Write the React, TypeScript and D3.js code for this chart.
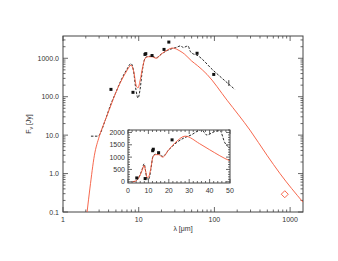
import { useEffect, useRef } from 'react';
import * as d3 from 'd3';

// model SED (red)
const modelWave = [2.08, 2.27, 2.6, 3.0, 3.6, 4.3, 5, 6, 7, 7.9, 8.6, 9.3, 9.8, 10.5, 11.3, 12.2, 13.5, 15, 17, 20, 24, 28, 35, 40, 50, 60, 80, 147, 295, 495, 735, 1480];
const modelFlux = [0.1, 0.42, 3, 9, 24, 60, 130, 280, 480, 660, 450, 190, 170, 280, 600, 1000, 1100, 1100, 1000, 1300, 1650, 1850, 1550, 1300, 850, 640, 380, 81, 13.5, 3.0, 1.0, 0.18];

// observed spectrum (black dashed)
const specWave = [2.34, 2.81, 3.0, 3.6, 4.3, 5, 6, 7, 7.9, 8.5, 9.2, 9.8, 10.4, 11.2, 12.3, 13.5, 15, 17, 20, 24, 28, 31, 34, 36, 38.6, 42.6, 45, 47.5, 50, 59, 96, 186];
const specFlux = [9.4, 9.4, 10, 24, 65, 130, 300, 520, 730, 500, 150, 92, 150, 500, 1050, 1120, 1130, 1030, 1300, 1600, 1800, 1900, 2050, 2120, 1900, 2040, 2080, 1580, 1375, 1200, 490, 155];

// photometry (black squares)
const photWave = [4.3, 8.4, 12.1, 12.4, 15, 21.6, 25, 59, 98];
const photFlux = [155, 130, 1260, 1320, 1180, 1700, 2640, 1350, 380];

// error bar near 155 um
const errWave = [155];
const errLo = [190];
const errHi = [270];

// mm point (open diamond)
const mmWave = [850];
const mmFlux = [0.29];

const xTickVals = [1, 10, 100, 1000];
const yTickVals = [0.1, 1, 10, 100, 1000];
const yTickLabels = ['0.1', '1.0', '10.0', '100.0', '1000.0'];
const insetXTicks = [0, 10, 20, 30, 40, 50];
const insetYTicks = [0, 500, 1000, 1500, 2000];

const RED = '#f5573a';
const AX = '#444';
const FONT = '"Liberation Sans", Arial, sans-serif';

export default function App() {
  const svgRef = useRef<SVGSVGElement>(null);

  useEffect(() => {
    const svg = d3.select(svgRef.current);
    svg.selectAll('*').remove();

    const m = { left: 63, right: 303, top: 36, bottom: 212 };
    const x = d3.scaleLog().domain([1, 1480]).range([m.left, m.right]);
    const y = d3.scaleLog().domain([0.1, 3800]).range([m.bottom, m.top]);

    svg.append('defs').append('clipPath').attr('id', 'mainClip')
      .append('rect').attr('x', m.left).attr('y', m.top)
      .attr('width', m.right - m.left).attr('height', m.bottom - m.top);

    const g = svg.append('g');

    // minor/major ticks, log
    const minorX: number[] = [];
    for (let d = 1; d < 10000; d *= 10) for (let k = 2; k < 10; k++) if (d * k < 1480) minorX.push(d * k);
    const minorY: number[] = [];
    for (let d = 0.1; d < 10000; d *= 10) for (let k = 2; k < 10; k++) if (d * k < 3800) minorY.push(d * k);

    const tk = (x1: number, y1: number, x2: number, y2: number) =>
      g.append('line').attr('x1', x1).attr('y1', y1).attr('x2', x2).attr('y2', y2)
        .attr('stroke', AX).attr('stroke-width', 0.8);

    xTickVals.forEach(v => { tk(x(v), m.bottom, x(v), m.bottom - 5); tk(x(v), m.top, x(v), m.top + 5); });
    minorX.forEach(v => { tk(x(v), m.bottom, x(v), m.bottom - 2.5); tk(x(v), m.top, x(v), m.top + 2.5); });
    yTickVals.forEach(v => { tk(m.left, y(v), m.left + 5, y(v)); tk(m.right, y(v), m.right - 5, y(v)); });
    minorY.forEach(v => { tk(m.left, y(v), m.left + 2.5, y(v)); tk(m.right, y(v), m.right - 2.5, y(v)); });

    g.append('rect').attr('x', m.left).attr('y', m.top)
      .attr('width', m.right - m.left).attr('height', m.bottom - m.top)
      .attr('fill', 'none').attr('stroke', AX).attr('stroke-width', 1);

    g.selectAll('.xl').data(xTickVals).join('text')
      .attr('x', d => x(d)).attr('y', m.bottom + 10).attr('text-anchor', 'middle')
      .attr('font-size', 7).attr('font-family', FONT).attr('fill', '#333').text(d => String(d));
    g.selectAll('.yl').data(yTickVals).join('text')
      .attr('x', m.left - 4).attr('y', d => y(d) + 2.5).attr('text-anchor', 'end')
      .attr('font-size', 7).attr('font-family', FONT).attr('fill', '#333').text((_, i) => yTickLabels[i]);

    g.append('text').attr('x', (m.left + m.right) / 2).attr('y', 231).attr('text-anchor', 'middle')
      .attr('font-size', 7).attr('font-family', FONT).attr('fill', '#333').text('λ [μm]');
    const yt = g.append('text').attr('transform', `translate(31,${(m.top + m.bottom) / 2}) rotate(-90)`)
      .attr('text-anchor', 'middle').attr('font-size', 7).attr('font-family', FONT).attr('fill', '#333');
    yt.append('tspan').text('F');
    yt.append('tspan').attr('font-size', 5).attr('dy', 1.5).text('ν');
    yt.append('tspan').attr('dy', -1.5).text(' [Jy]');

    const plot = g.append('g').attr('clip-path', 'url(#mainClip)');
    const modelPts = modelWave.map((w, i) => [w, modelFlux[i]] as [number, number]);
    const specPts = specWave.map((w, i) => [w, specFlux[i]] as [number, number]);

    const lineMain = d3.line<[number, number]>().x(d => x(d[0])).y(d => y(d[1])).curve(d3.curveMonotoneX);

    plot.append('path').attr('d', lineMain(specPts)).attr('fill', 'none')
      .attr('stroke', '#111').attr('stroke-width', 0.9).attr('stroke-dasharray', '2.5,1.5');
    plot.append('path').attr('d', lineMain(modelPts)).attr('fill', 'none')
      .attr('stroke', RED).attr('stroke-width', 0.9);

    photWave.forEach((w, i) => {
      plot.append('rect').attr('x', x(w) - 1.5).attr('y', y(photFlux[i]) - 1.5)
        .attr('width', 3).attr('height', 3).attr('fill', '#111');
    });
    errWave.forEach((w, i) => {
      plot.append('line').attr('x1', x(w)).attr('x2', x(w)).attr('y1', y(errLo[i])).attr('y2', y(errHi[i]))
        .attr('stroke', '#111').attr('stroke-width', 0.8);
    });
    mmWave.forEach((w, i) => {
      const cx = x(w), cy = y(mmFlux[i]);
      plot.append('path').attr('d', `M${cx},${cy - 3.5}L${cx + 3.5},${cy}L${cx},${cy + 3.5}L${cx - 3.5},${cy}Z`)
        .attr('fill', 'none').attr('stroke', RED).attr('stroke-width', 0.9);
    });

    // inset
    const n = { left: 128, right: 230, top: 130, bottom: 183 };
    const xi = d3.scaleLinear().domain([0, 50]).range([n.left, n.right]);
    const yi = d3.scaleLinear().domain([-50, 2100]).range([n.bottom, n.top]);

    svg.select('defs').append('clipPath').attr('id', 'insetClip')
      .append('rect').attr('x', n.left).attr('y', n.top)
      .attr('width', n.right - n.left).attr('height', n.bottom - n.top);

    const ig = svg.append('g');
    ig.append('rect').attr('x', n.left).attr('y', n.top)
      .attr('width', n.right - n.left).attr('height', n.bottom - n.top).attr('fill', '#fff');

    const ip = ig.append('g').attr('clip-path', 'url(#insetClip)');
    const lineInset = d3.line<[number, number]>().x(d => xi(d[0])).y(d => yi(d[1])).curve(d3.curveMonotoneX);
    ip.append('path').attr('d', lineInset(specPts.filter(d => d[0] < 80))).attr('fill', 'none')
      .attr('stroke', '#111').attr('stroke-width', 0.9).attr('stroke-dasharray', '2.5,1.5');
    ip.append('path').attr('d', lineInset(modelPts.filter(d => d[0] < 80))).attr('fill', 'none')
      .attr('stroke', RED).attr('stroke-width', 0.9);
    photWave.forEach((w, i) => {
      ip.append('rect').attr('x', xi(w) - 1.5).attr('y', yi(photFlux[i]) - 1.5)
        .attr('width', 3).attr('height', 3).attr('fill', '#111');
    });

    const itk = (x1: number, y1: number, x2: number, y2: number) =>
      ig.append('line').attr('x1', x1).attr('y1', y1).attr('x2', x2).attr('y2', y2)
        .attr('stroke', AX).attr('stroke-width', 0.8);
    d3.range(0, 51, 2).forEach(v => {
      const L = v % 10 === 0 ? 4 : 2;
      itk(xi(v), n.bottom, xi(v), n.bottom - L); itk(xi(v), n.top, xi(v), n.top + L);
    });
    d3.range(0, 2101, 100).forEach(v => {
      const L = v % 500 === 0 ? 4 : 2;
      itk(n.left, yi(v), n.left + L, yi(v)); itk(n.right, yi(v), n.right - L, yi(v));
    });
    ig.append('rect').attr('x', n.left).attr('y', n.top)
      .attr('width', n.right - n.left).attr('height', n.bottom - n.top)
      .attr('fill', 'none').attr('stroke', AX).attr('stroke-width', 1);

    ig.selectAll('.ixl').data(insetXTicks).join('text')
      .attr('x', d => xi(d)).attr('y', n.bottom + 10).attr('text-anchor', 'middle')
      .attr('font-size', 7).attr('font-family', FONT).attr('fill', '#333').text(d => String(d));
    ig.selectAll('.iyl').data(insetYTicks).join('text')
      .attr('x', n.left - 3).attr('y', d => yi(d) + 2.5).attr('text-anchor', 'end')
      .attr('font-size', 7).attr('font-family', FONT).attr('fill', '#333').text(d => String(d));
  }, []);

  return (
    <svg ref={svgRef} width={338} height={261}
      style={{ position: 'absolute', left: 0, top: 0, background: '#fff' }} />
  );
}
